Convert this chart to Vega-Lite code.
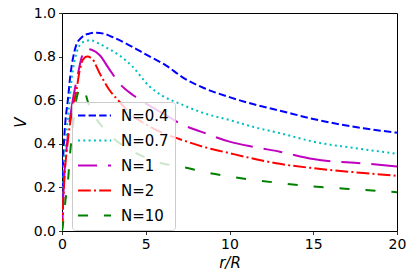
{
  "$schema": "https://vega.github.io/schema/vega-lite/v6.json",
  "width": 335,
  "height": 218,
  "autosize": "none",
  "padding": {"left": 62, "top": 13, "right": 18, "bottom": 43},
  "background": "white",
  "config": {
    "font": "DejaVu Sans",
    "view": {"stroke": "black", "strokeWidth": 1},
    "axis": {"grid": false, "domain": false, "labelFlush": false, "tickColor": "black", "tickSize": 3.5, "tickWidth": 0.8, "labelColor": "black", "labelFont": "DejaVu Sans", "labelFontSize": 14, "labelPadding": 3, "titleColor": "black", "titleFont": "DejaVu Sans", "titleFontSize": 15, "titleFontWeight": "normal", "titleFontStyle": "italic"}
  },
  "data": {"values": [
    {"s":"N=0.4","x":0,"v":0},{"s":"N=0.4","x":0.05,"v":0.28},{"s":"N=0.4","x":0.1,"v":0.38},{"s":"N=0.4","x":0.2,"v":0.5},{"s":"N=0.4","x":0.35,"v":0.6},{"s":"N=0.4","x":0.5,"v":0.715},{"s":"N=0.4","x":0.65,"v":0.79},{"s":"N=0.4","x":0.85,"v":0.853},{"s":"N=0.4","x":1.2,"v":0.89},{"s":"N=0.4","x":1.6,"v":0.905},{"s":"N=0.4","x":2.0,"v":0.91},{"s":"N=0.4","x":2.5,"v":0.905},{"s":"N=0.4","x":3,"v":0.89},{"s":"N=0.4","x":4.2,"v":0.845},{"s":"N=0.4","x":5,"v":0.81},{"s":"N=0.4","x":6.2,"v":0.76},{"s":"N=0.4","x":7.2,"v":0.705},{"s":"N=0.4","x":8.5,"v":0.655},{"s":"N=0.4","x":10,"v":0.614},{"s":"N=0.4","x":11.5,"v":0.58},{"s":"N=0.4","x":13,"v":0.552},{"s":"N=0.4","x":15,"v":0.514},{"s":"N=0.4","x":18,"v":0.471},{"s":"N=0.4","x":20,"v":0.451},
    {"s":"N=0.7","x":0,"v":0},{"s":"N=0.7","x":0.1,"v":0.28},{"s":"N=0.7","x":0.2,"v":0.4},{"s":"N=0.7","x":0.3,"v":0.48},{"s":"N=0.7","x":0.45,"v":0.593},{"s":"N=0.7","x":0.55,"v":0.68},{"s":"N=0.7","x":0.75,"v":0.78},{"s":"N=0.7","x":1.0,"v":0.845},{"s":"N=0.7","x":1.3,"v":0.868},{"s":"N=0.7","x":1.7,"v":0.875},{"s":"N=0.7","x":2.2,"v":0.86},{"s":"N=0.7","x":2.8,"v":0.835},{"s":"N=0.7","x":3.4,"v":0.807},{"s":"N=0.7","x":4.2,"v":0.755},{"s":"N=0.7","x":5.2,"v":0.665},{"s":"N=0.7","x":6,"v":0.62},{"s":"N=0.7","x":7,"v":0.585},{"s":"N=0.7","x":8.5,"v":0.54},{"s":"N=0.7","x":10,"v":0.509},{"s":"N=0.7","x":11.5,"v":0.476},{"s":"N=0.7","x":13,"v":0.449},{"s":"N=0.7","x":15,"v":0.41},{"s":"N=0.7","x":18,"v":0.375},{"s":"N=0.7","x":20,"v":0.354},
    {"s":"N=1","x":0,"v":0},{"s":"N=1","x":0.1,"v":0.2},{"s":"N=1","x":0.3,"v":0.4},{"s":"N=1","x":0.6,"v":0.58},{"s":"N=1","x":0.94,"v":0.715},{"s":"N=1","x":1.15,"v":0.79},{"s":"N=1","x":1.45,"v":0.835},{"s":"N=1","x":1.8,"v":0.83},{"s":"N=1","x":2.24,"v":0.807},{"s":"N=1","x":2.8,"v":0.745},{"s":"N=1","x":3.43,"v":0.677},{"s":"N=1","x":4.23,"v":0.624},{"s":"N=1","x":5,"v":0.585},{"s":"N=1","x":6.2,"v":0.532},{"s":"N=1","x":7,"v":0.495},{"s":"N=1","x":8.5,"v":0.45},{"s":"N=1","x":10,"v":0.41},{"s":"N=1","x":11.5,"v":0.385},{"s":"N=1","x":13,"v":0.364},{"s":"N=1","x":15,"v":0.33},{"s":"N=1","x":18,"v":0.31},{"s":"N=1","x":20,"v":0.296},
    {"s":"N=2","x":0,"v":0},{"s":"N=2","x":0.15,"v":0.25},{"s":"N=2","x":0.33,"v":0.4},{"s":"N=2","x":0.6,"v":0.55},{"s":"N=2","x":0.85,"v":0.64},{"s":"N=2","x":1.04,"v":0.73},{"s":"N=2","x":1.24,"v":0.784},{"s":"N=2","x":1.5,"v":0.8},{"s":"N=2","x":1.8,"v":0.79},{"s":"N=2","x":2.24,"v":0.725},{"s":"N=2","x":2.8,"v":0.65},{"s":"N=2","x":3.43,"v":0.593},{"s":"N=2","x":4.2,"v":0.53},{"s":"N=2","x":5,"v":0.49},{"s":"N=2","x":6,"v":0.45},{"s":"N=2","x":7,"v":0.422},{"s":"N=2","x":8.5,"v":0.385},{"s":"N=2","x":10,"v":0.357},{"s":"N=2","x":13,"v":0.308},{"s":"N=2","x":15,"v":0.288},{"s":"N=2","x":18,"v":0.266},{"s":"N=2","x":20,"v":0.253},
    {"s":"N=10","x":0,"v":0},{"s":"N=10","x":0.09,"v":0.052},{"s":"N=10","x":0.21,"v":0.143},{"s":"N=10","x":0.35,"v":0.22},{"s":"N=10","x":0.45,"v":0.326},{"s":"N=10","x":0.65,"v":0.48},{"s":"N=10","x":0.85,"v":0.6},{"s":"N=10","x":1.0,"v":0.645},{"s":"N=10","x":1.15,"v":0.66},{"s":"N=10","x":1.35,"v":0.64},{"s":"N=10","x":1.6,"v":0.58},{"s":"N=10","x":2,"v":0.52},{"s":"N=10","x":2.5,"v":0.47},{"s":"N=10","x":3,"v":0.43},{"s":"N=10","x":4,"v":0.375},{"s":"N=10","x":5,"v":0.337},{"s":"N=10","x":6,"v":0.31},{"s":"N=10","x":7.2,"v":0.294},{"s":"N=10","x":8.5,"v":0.27},{"s":"N=10","x":10,"v":0.25},{"s":"N=10","x":13,"v":0.22},{"s":"N=10","x":15,"v":0.204},{"s":"N=10","x":18,"v":0.189},{"s":"N=10","x":20,"v":0.178}
  ]},
  "mark": {"type": "line", "strokeWidth": 2, "interpolate": "monotone", "clip": true},
  "encoding": {
    "x": {"field": "x", "type": "quantitative", "scale": {"domain": [0, 20], "nice": false, "zero": false}, "axis": {"values": [0, 5, 10, 15, 20], "title": "r/R", "titlePadding": 4}},
    "y": {"field": "v", "type": "quantitative", "scale": {"domain": [0, 1], "nice": false}, "axis": {"values": [0, 0.2, 0.4, 0.6, 0.8, 1.0], "format": ".1f", "title": "V", "titlePadding": 5}},
    "color": {"field": "s", "type": "nominal", "scale": {"domain": ["N=0.4", "N=0.7", "N=1", "N=2", "N=10"], "range": ["#0000ff", "#00bfbf", "#bf00bf", "#ff0000", "#008000"]},
      "legend": {"orient": "none", "legendX": 10, "legendY": 89, "title": null, "symbolType": "M-3,0H3", "symbolSize": 121, "symbolOffset": 9, "symbolStrokeWidth": 2, "labelFontSize": 15, "labelColor": "black", "labelOffset": 19, "rowPadding": 9, "padding": 6, "fillColor": "rgba(255,255,255,0.8)", "strokeColor": "#cccccc", "cornerRadius": 3}},
    "strokeDash": {"field": "s", "type": "nominal", "scale": {"domain": ["N=0.4", "N=0.7", "N=1", "N=2", "N=10"], "range": [[7.4, 3.2], [2, 3.3], [19, 11, 38, 11], [12.8, 3.2, 2, 3.2], [10, 16]]}},
    "order": {"field": "x", "type": "quantitative"}
  }
}
